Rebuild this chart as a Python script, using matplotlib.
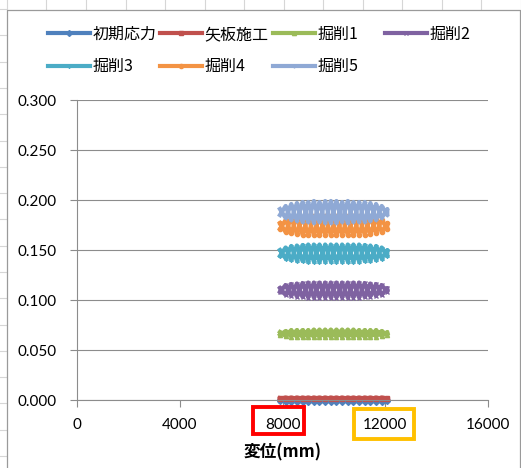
import numpy as np
import matplotlib.pyplot as plt
from matplotlib.lines import Line2D
from matplotlib.patches import Rectangle

plt.rcParams['font.family'] = ['Lato', 'Noto Sans CJK JP', 'DejaVu Sans']

# ---- data ----
series_names = ['初期応力', '矢板施工', '掘削1', '掘削2', '掘削3', '掘削4', '掘削5']
colors = ['#4F81BD', '#C0504D', '#9BBB59', '#7F62A1', '#4BACC6', '#F39344', '#8FA9D5']
markers = ['D', 's', '^', 'x', (6, 2, 0), 'o', '+']

# displacement (mm) positions across each band
x_mm = [7900, 8120, 8340, 8560, 8780, 9000, 9220, 9440, 9660, 9880,
        10100, 10320, 10540, 10760, 10980, 11200, 11420, 11640, 11860, 12080]

# upper / lower envelope of each zig-zag band
init_top = [0.000, 0.0005, 0.0005, 0.0005, 0.0005, 0.0005, 0.0005, 0.0005, 0.0005, 0.0005,
            0.0005, 0.0005, 0.0005, 0.0005, 0.0005, 0.0005, 0.0005, 0.0005, 0.0005, 0.000]
init_bot = [-0.001, -0.0015, -0.0015, -0.0015, -0.0015, -0.0015, -0.0015, -0.0015, -0.0015, -0.0015,
            -0.0015, -0.0015, -0.0015, -0.0015, -0.0015, -0.0015, -0.0015, -0.0015, -0.0015, -0.001]
sheet_top = [0.002, 0.0025, 0.0025, 0.0025, 0.0025, 0.0025, 0.0025, 0.0025, 0.0025, 0.0025,
             0.0025, 0.0025, 0.0025, 0.0025, 0.0025, 0.0025, 0.0025, 0.0025, 0.0025, 0.002]
sheet_bot = [0.0015, 0.001, 0.001, 0.001, 0.001, 0.001, 0.001, 0.001, 0.001, 0.001,
             0.001, 0.001, 0.001, 0.001, 0.001, 0.001, 0.001, 0.001, 0.001, 0.0015]
exc1_top = [0.068, 0.069, 0.070, 0.070, 0.070, 0.070, 0.0705, 0.0705, 0.0705, 0.0705,
            0.0705, 0.0705, 0.0705, 0.0705, 0.070, 0.070, 0.070, 0.070, 0.069, 0.068]
exc1_bot = [0.065, 0.064, 0.0635, 0.063, 0.063, 0.063, 0.063, 0.063, 0.063, 0.063,
            0.063, 0.063, 0.063, 0.063, 0.063, 0.063, 0.063, 0.0635, 0.064, 0.065]
exc2_top = [0.112, 0.115, 0.116, 0.1165, 0.117, 0.1175, 0.1175, 0.1175, 0.1175, 0.1175,
            0.1175, 0.1175, 0.1175, 0.1175, 0.1175, 0.117, 0.1165, 0.116, 0.115, 0.112]
exc2_bot = [0.108, 0.105, 0.104, 0.1035, 0.103, 0.1025, 0.1025, 0.1025, 0.1025, 0.1025,
            0.1025, 0.1025, 0.1025, 0.1025, 0.1025, 0.103, 0.1035, 0.104, 0.105, 0.108]
exc3_top = [0.150, 0.1525, 0.154, 0.1545, 0.155, 0.1555, 0.1555, 0.1555, 0.1555, 0.1555,
            0.1555, 0.1555, 0.1555, 0.1555, 0.1555, 0.155, 0.1545, 0.154, 0.1525, 0.150]
exc3_bot = [0.144, 0.1415, 0.140, 0.1395, 0.139, 0.1385, 0.1385, 0.1385, 0.1385, 0.1385,
            0.1385, 0.1385, 0.1385, 0.1385, 0.1385, 0.139, 0.1395, 0.140, 0.1415, 0.144]
exc4_top = [0.177, 0.180, 0.182, 0.183, 0.183, 0.184, 0.184, 0.184, 0.184, 0.184,
            0.184, 0.184, 0.184, 0.184, 0.184, 0.183, 0.183, 0.182, 0.180, 0.177]
exc4_bot = [0.171, 0.168, 0.167, 0.166, 0.1655, 0.165, 0.165, 0.165, 0.165, 0.165,
            0.165, 0.165, 0.165, 0.165, 0.165, 0.1655, 0.166, 0.167, 0.168, 0.171]
exc5_top = [0.191, 0.194, 0.196, 0.197, 0.198, 0.198, 0.199, 0.198, 0.199, 0.199,
            0.199, 0.198, 0.199, 0.198, 0.198, 0.198, 0.197, 0.196, 0.194, 0.191]
exc5_bot = [0.185, 0.182, 0.180, 0.179, 0.178, 0.178, 0.177, 0.178, 0.177, 0.177,
            0.177, 0.178, 0.177, 0.178, 0.178, 0.178, 0.179, 0.180, 0.182, 0.185]

envelopes = [(init_top, init_bot), (sheet_top, sheet_bot), (exc1_top, exc1_bot),
             (exc2_top, exc2_bot), (exc3_top, exc3_bot), (exc4_top, exc4_bot),
             (exc5_top, exc5_bot)]

x_ticks = [0, 4000, 8000, 12000, 16000]
y_ticks = [0.000, 0.050, 0.100, 0.150, 0.200, 0.250, 0.300]


def zigzag(xs, top, bot):
    """walk forward and back across the band, alternating top / bottom"""
    px, py = [], []
    for i in range(len(xs)):
        px.append(xs[i])
        py.append(top[i] if i % 2 == 0 else bot[i])
    for i in reversed(range(len(xs))):
        px.append(xs[i])
        py.append(bot[i] if i % 2 == 0 else top[i])
    return px, py


W, H = 521, 468
fig = plt.figure(figsize=(W / 100, H / 100), dpi=100)


def fx(x):
    return x / W


def fy(y):
    return 1 - y / H


# spreadsheet cells behind the chart
cell_col = '#D6D6D6'
for x in np.arange(7, W, 39.5):
    fig.add_artist(Line2D([fx(x), fx(x)], [fy(0), fy(9)], color=cell_col, lw=0.8))
for y in np.arange(9, H, 26.3):
    fig.add_artist(Line2D([fx(0), fx(6)], [fy(y), fy(y)], color=cell_col, lw=0.8))
# chart area border
fig.add_artist(Line2D([fx(6.5), fx(6.5), fx(520), fx(520)], [fy(H), fy(9.5), fy(9.5), fy(H)],
                      color='#9A9A9A', lw=0.9))

ax = fig.add_axes([fx(77), fy(400), fx(488) - fx(77), fy(100) - fy(400)])

for name, c, m, (top, bot) in zip(series_names, colors, markers, envelopes):
    xs, ys = zigzag(x_mm, top, bot)
    ax.plot(xs, ys, color=c, lw=3.0, marker=m, ms=3, mew=1.0,
            label=name, clip_on=False)

ax.set_xlim(0, 16000)
ax.set_ylim(0, 0.3)
ax.set_xticks(x_ticks)
ax.set_yticks(y_ticks)
ax.set_xticklabels([str(v) for v in x_ticks])
ax.set_yticklabels(['%.3f' % v for v in y_ticks])
ax.yaxis.grid(True, color='#8C8C8C', lw=0.8)
ax.set_axisbelow(True)
for s in ['top', 'right']:
    ax.spines[s].set_visible(False)
for s in ['left', 'bottom']:
    ax.spines[s].set_color('#8C8C8C')
    ax.spines[s].set_linewidth(0.8)
ax.tick_params(axis='y', length=5, width=0.8, color='#8C8C8C', pad=10, labelsize=11)
ax.tick_params(axis='x', length=5, width=0.8, color='#8C8C8C', pad=8, labelsize=11)
ax.set_xlabel('変位(mm)', fontsize=12, fontweight='bold',
              family=['Noto Sans CJK JP', 'DejaVu Sans'], labelpad=8)

# legend: Excel lays the entries out on an even grid, row by row
handles, labels = ax.get_legend_handles_labels()
col_x = [48, 160, 273, 385]
for j, x0 in enumerate(col_x):
    idx = [i for i in (j, j + 4) if i < len(handles)]
    fig.legend([handles[i] for i in idx], [labels[i] for i in idx],
               loc='upper left', bbox_to_anchor=(fx(x0), fy(26)), ncol=1,
               frameon=False, prop={'family': ['Noto Sans CJK JP', 'DejaVu Sans'], 'size': 11.5},
               handlelength=2.6, handletextpad=0.2,
               labelspacing=0.95, borderpad=0, borderaxespad=0)

# highlight boxes around the 8000 / 12000 tick labels
fig.add_artist(Rectangle((fx(253), fy(434)), fx(304) - fx(253), fy(407) - fy(434),
                         fill=False, ec='#FF0000', lw=2.8))
fig.add_artist(Rectangle((fx(354), fy(439)), fx(414) - fx(354), fy(409) - fy(439),
                         fill=False, ec='#FFC000', lw=2.8))

fig.savefig('out.png', dpi=100)
